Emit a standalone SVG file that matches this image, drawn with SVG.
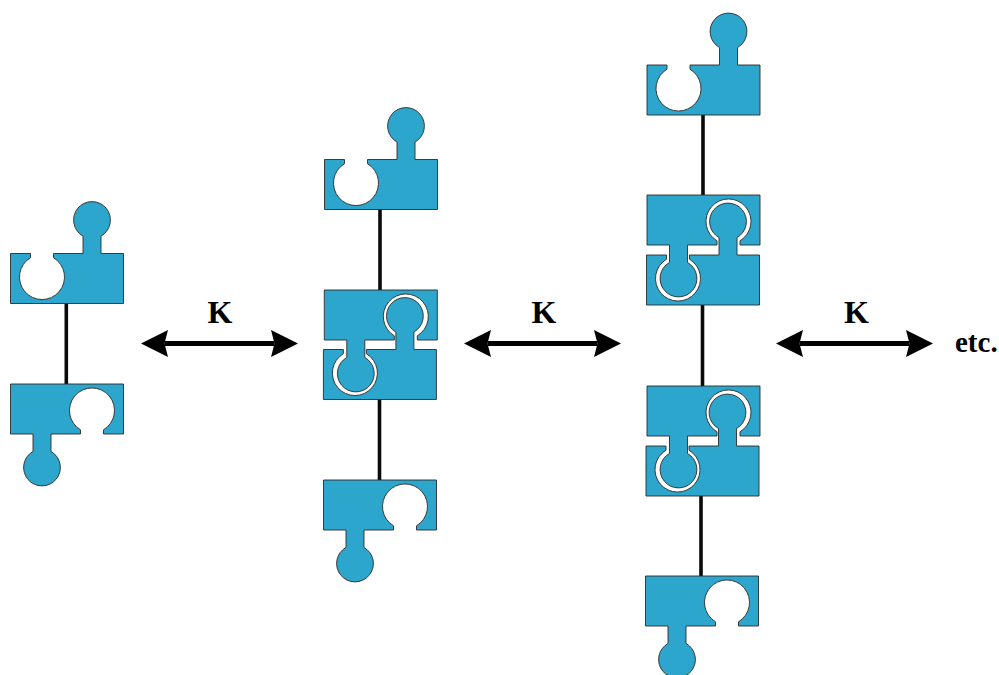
<svg xmlns="http://www.w3.org/2000/svg" width="999" height="675" viewBox="0 0 999 675">
  <style>
    .piece { fill: #2ca6cc; stroke: #2b2b2b; stroke-width: 0.9; }
    .link { stroke: #0a0a0a; stroke-width: 3.6; fill: none; }
    .equilibrium { stroke: #000; stroke-width: 5; fill: none; marker-start: url(#head); marker-end: url(#head); }
    .label { font-family: "Liberation Serif", "Times New Roman", serif; font-weight: bold; fill: #000; }
  </style>
  <defs>
    <marker id="head" markerUnits="userSpaceOnUse" markerWidth="30" markerHeight="30" viewBox="0 -15 30 30" refX="3.5" refY="0" orient="auto-start-reverse">
      <path d="M0,-13.5 L27,0 L0,13.5 L3.5,0 Z" fill="#000"/>
    </marker>
    <!-- Subunit: socket on the upper left, knob on the upper right -->
    <path id="subunit" class="piece" d="M0,0 H20 V4.2 A22.5,22.5 0 1 0 43,4.2 V0 H72.5 V-17.45 A18.4,18.4 0 1 1 90.5,-17.45 V0 H113 V50 H0 Z"/>
    <!-- Same subunit turned over: socket on the lower right, knob on the lower left -->
    <use id="subunit-flipped" href="#subunit" transform="rotate(180 56.5 25)"/>
  </defs>

  <g id="connectors">
    <line class="link" x1="66.3" y1="303" x2="66.3" y2="384"/>
    <line class="link" x1="380" y1="209" x2="380" y2="290"/>
    <line class="link" x1="379.5" y1="399" x2="379.5" y2="480"/>
    <line class="link" x1="703" y1="115" x2="703" y2="195"/>
    <line class="link" x1="702.5" y1="305" x2="702.5" y2="386"/>
    <line class="link" x1="701" y1="496" x2="701" y2="576"/>
    <line class="equilibrium" x1="164.500" y1="343.500" x2="274.500" y2="343.500"/>
    <line class="equilibrium" x1="487.500" y1="343.500" x2="597.500" y2="343.500"/>
    <line class="equilibrium" x1="799.500" y1="343.500" x2="909.500" y2="343.500"/>
  </g>

  <g id="monomer-1-top"><use href="#subunit" x="10.500" y="253.500"/></g>
  <g id="monomer-1-bottom"><use href="#subunit-flipped" transform="translate(10.500 384)"/></g>

  <g id="dimer-2-top"><use href="#subunit" x="324.500" y="159.500"/></g>
  <g id="dimer-2-middle-upper"><use href="#subunit-flipped" transform="translate(324.300 290)"/></g>
  <g id="dimer-2-middle-lower"><use href="#subunit" x="323.400" y="349.500"/></g>
  <g id="dimer-2-bottom"><use href="#subunit-flipped" transform="translate(323.500 480)"/></g>

  <g id="trimer-3-top"><use href="#subunit" x="647" y="65"/></g>
  <g id="trimer-3-upper-a"><use href="#subunit-flipped" transform="translate(647 195)"/></g>
  <g id="trimer-3-upper-b"><use href="#subunit" x="646.500" y="255"/></g>
  <g id="trimer-3-lower-a"><use href="#subunit-flipped" transform="translate(647 386)"/></g>
  <g id="trimer-3-lower-b"><use href="#subunit" x="646" y="446"/></g>
  <g id="trimer-3-bottom"><use href="#subunit-flipped" transform="translate(645.500 576)"/></g>

  <g id="labels">
    <text class="label" x="220" y="323" font-size="32" text-anchor="middle">K</text>
    <text class="label" x="544" y="323" font-size="32" text-anchor="middle">K</text>
    <text class="label" x="856.500" y="323" font-size="32" text-anchor="middle">K</text>
    <text class="label" x="955" y="352" font-size="29">etc.</text>
  </g>
</svg>
